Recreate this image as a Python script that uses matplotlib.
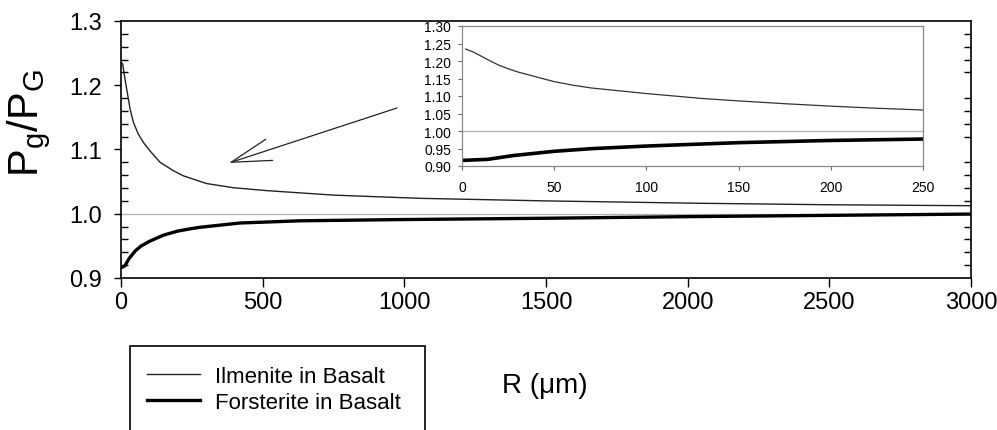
import matplotlib
matplotlib.use('Agg')
import matplotlib.pyplot as plt
from matplotlib.patches import Rectangle
from matplotlib.ticker import MultipleLocator, FormatStrFormatter

plt.rcParams['font.family'] = ['Liberation Sans', 'DejaVu Sans']
plt.rcParams['mathtext.default'] = 'regular'

# values: main panel
r_main = [0, 6, 12, 24, 32, 44, 61, 79, 102, 138, 185, 220, 302, 397, 514,
          750, 1055, 1500, 2044, 2500, 3000]
ilm_main = [1.236, 1.233, 1.215, 1.184, 1.163, 1.142, 1.124, 1.111, 1.098,
            1.080, 1.067, 1.059, 1.047, 1.0405, 1.036, 1.029, 1.024, 1.020,
            1.0163, 1.014, 1.0125]
# inset panel (0-250 um)
r_inset = [2, 6, 10, 15, 20, 25, 30, 40, 50, 60, 70, 100, 130, 150, 175,
           200, 225, 250]
ilm_inset = [1.234, 1.226, 1.215, 1.201, 1.188, 1.178, 1.169, 1.155, 1.141,
             1.131, 1.123, 1.107, 1.093, 1.086, 1.078, 1.071, 1.065, 1.060]
# forsterite, same in both panels
r_fo = [0, 14, 28, 50, 70, 100, 150, 200, 250, 280, 420, 630, 1000, 1500,
        2000, 2500, 3000]
forsterite = [0.916, 0.919, 0.930, 0.942, 0.9495, 0.957, 0.9667, 0.973, 0.977,
              0.979, 0.9856, 0.989, 0.991, 0.993, 0.9955, 0.9975, 0.9995]
labels = ['Ilmenite in Basalt', 'Forsterite in Basalt']

W, H = 997, 431
fig = plt.figure(figsize=(W / 100, H / 100), dpi=100)

# main axes
ax = fig.add_axes([121 / W, 1 - 279 / H, 850 / W, 257 / H])
ax.axhline(1.0, color='#b0b0b0', lw=0.9, zorder=1)
l1, = ax.plot(r_main, ilm_main, color='#222222', lw=1.0, label=labels[0])
l2, = ax.plot(r_fo, forsterite, color='black', lw=2.4, label=labels[1])
ax.set_xlim(0, 3000)
ax.set_ylim(0.9, 1.3)
ax.xaxis.set_major_locator(MultipleLocator(500))
ax.yaxis.set_major_locator(MultipleLocator(0.1))
ax.yaxis.set_minor_locator(MultipleLocator(0.02))
ax.yaxis.set_major_formatter(FormatStrFormatter('%.1f'))
ax.tick_params(axis='x', which='major', direction='out', length=6.5, width=1.0,
               labelsize=17, pad=3, top=False)
ax.tick_params(axis='y', which='major', direction='out', length=5, width=1.0,
               labelsize=17, pad=9, right=False)
ax.tick_params(axis='y', which='minor', direction='in', length=5, width=1.0,
               left=True, right=True)
for s in ax.spines.values():
    s.set_linewidth(1.2)

ax.annotate('', xy=(381, 1.079), xytext=(974, 1.1646),
            arrowprops=dict(arrowstyle='->,head_length=1.44,head_width=0.4',
                            lw=0.9, color='#222222', mutation_scale=20,
                            shrinkA=0, shrinkB=0))

fig.text(29 / W, 1 - 123 / H, r'P$_g$/P$_G$', rotation=90, ha='center',
         va='center', fontsize=30)
fig.text(545 / W, 1 - 386 / H, 'R (\u03bcm)', ha='center', va='center',
         fontsize=20)

# inset
ins = fig.add_axes([462 / W, 1 - 167 / H, 461 / W, 140 / H])
ins.set_facecolor('white')
ins.axhline(1.0, color='#b0b0b0', lw=0.9, zorder=1)
ins.plot(r_inset, ilm_inset, color='#333333', lw=0.9)
ins.plot(r_fo, forsterite, color='black', lw=2.6)
ins.set_xlim(0, 250)
ins.set_ylim(0.9, 1.3)
ins.xaxis.set_major_locator(MultipleLocator(50))
ins.yaxis.set_major_locator(MultipleLocator(0.05))
ins.yaxis.set_major_formatter(FormatStrFormatter('%.2f'))
ins.tick_params(direction='out', length=3, width=0.8, color='#666666',
                labelsize=10, top=False, right=False)
ins.tick_params(axis='x', pad=7)
ins.tick_params(axis='y', pad=5)
for s in ins.spines.values():
    s.set_color('#888888')
    s.set_linewidth(0.9)

# legend, frame runs off the bottom edge
fig.legend([l1, l2], labels, loc='upper left',
           bbox_to_anchor=(147 / W, 1 - 367 / H), frameon=False, fontsize=16,
           handlelength=2.4, handletextpad=0.68, labelspacing=0.23,
           borderpad=0, borderaxespad=0)
fig.add_artist(Rectangle((130 / W, -0.05), 295 / W, 0.05 + (H - 347) / H,
                         transform=fig.transFigure, fill=False, lw=1.2,
                         ec='black', clip_on=False))

fig.savefig('out.png', dpi=100)
